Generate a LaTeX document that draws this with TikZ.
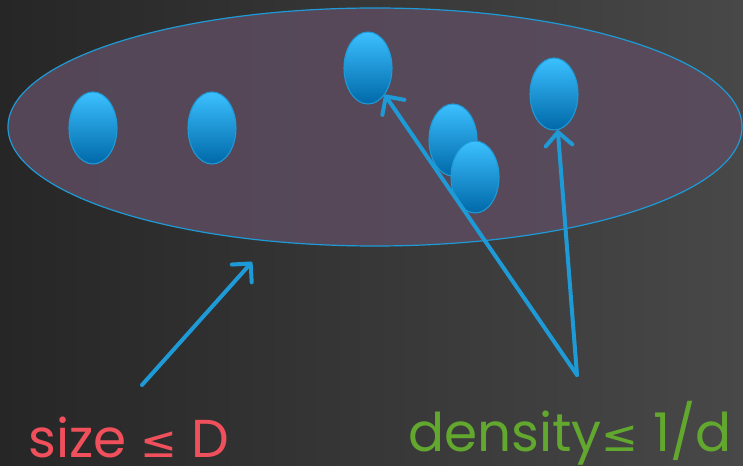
\documentclass[tikz,border=0pt]{standalone}
\usepackage{fontspec}
\setmainfont{Poppins}
\newfontfamily\symfont{DejaVu Sans}
\usetikzlibrary{shapes.geometric}
\usetikzlibrary{arrows.meta}
\usepackage{xcolor}

\definecolor{bgdark}{RGB}{38,38,38}
\definecolor{bglight}{RGB}{72,72,72}
\definecolor{setfill}{RGB}{92,76,96}
\definecolor{lineblue}{RGB}{30,154,214}
\definecolor{dottop}{RGB}{60,192,255}
\definecolor{dotbot}{RGB}{0,104,168}
\definecolor{sizered}{RGB}{240,80,92}
\definecolor{densgreen}{RGB}{98,168,46}

\tikzset{
  point/.style={ellipse, draw=lineblue, line width=0.8, minimum width=36, minimum height=54,
    inner sep=0, top color=dottop, bottom color=dotbot},
  pointer/.style={draw=lineblue, line width=3, line cap=round,
    -{Straight Barb[length=10pt, width=20pt, line width=3pt, round]}},
  label/.style={anchor=base west, inner sep=0, font=\fontsize{40}{46}\selectfont}
}

\begin{document}
\begin{tikzpicture}[x=0.75pt,y=0.75pt,yscale=-1,xscale=1]
%set diagram left start at 0, and has height of 466
\shade [left color=bgdark, right color=bglight] (0,0) rectangle (743,466);
\useasboundingbox (0,0) rectangle (743,466);

%Shape: Ellipse [id:setshape]
\draw [draw=lineblue, line width=0.9, fill=setfill, fill opacity=0.85] (375,127) ellipse (367 and 119);

%Shape: Ellipse [id:points]
\node [point] (p1) at (93,128) {};
\node [point] (p2) at (212,128) {};
\node [point] (p3) at (368,68) {};
\node [point] (p4) at (453,140) {};
\node [point] (p5) at (475,177) {};
\node [point] (p6) at (554,94) {};

%Straight Lines [id:arrows]
\coordinate (sizetail) at (142,385);
\coordinate (sizetip) at (252,262);
\coordinate (denstail) at (577,375);
\draw [pointer] (sizetail) -- (sizetip);
\draw [pointer] (denstail) -- (p3.-58);
\draw [pointer] (denstail) -- (p6.-84);

% Text Node
\node [label, text=sizered] (sizelbl) at (28,458) {size {\symfont\fontsize{33}{40}\selectfont ≤} D};
% Text Node
\node [label, text=densgreen] (denslbl) at (408,452) {density{\symfont\fontsize{33}{40}\selectfont ≤} 1/d};

\end{tikzpicture}
\end{document}
